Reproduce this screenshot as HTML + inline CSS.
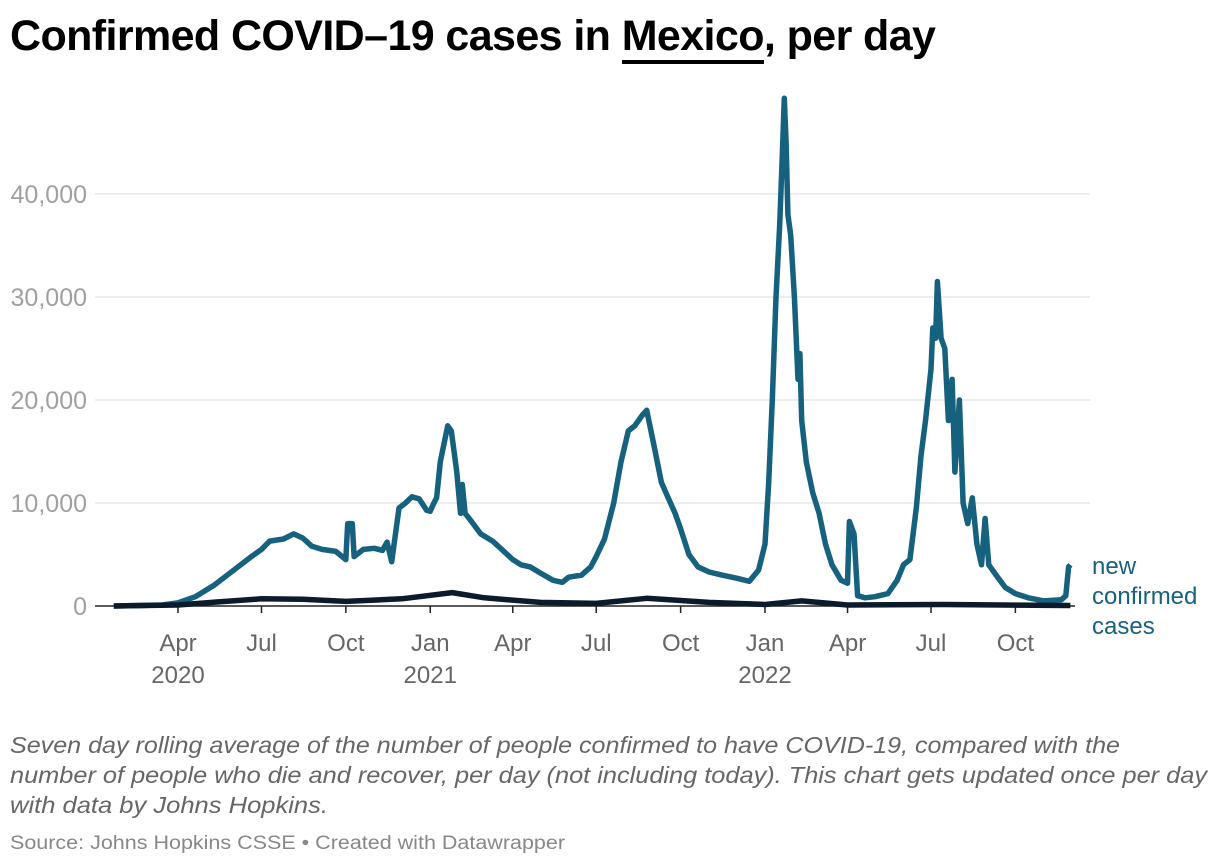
<!DOCTYPE html>
<html><head><meta charset="utf-8">
<style>
body{margin:0;background:#fff;width:1220px;height:866px;overflow:hidden;font-family:"Liberation Sans",sans-serif}
#title{position:absolute;left:10px;top:12px;font-size:43px;font-weight:bold;color:#000;letter-spacing:-0.6px;white-space:nowrap}
#title u{text-decoration:none;border-bottom:4px solid #000;padding-bottom:0px}
svg{position:absolute;left:0;top:0}
</style></head><body>
<div id="title">Confirmed COVID–19 cases in <u>Mexico</u>, per day</div>
<svg id="chart" width="1220" height="866">
<g font-family="Liberation Sans, sans-serif" font-style="italic" font-size="23" fill="#666">
<text x="10" y="753" textLength="1110" lengthAdjust="spacingAndGlyphs">Seven day rolling average of the number of people confirmed to have COVID-19, compared with the</text>
<text x="10" y="783" textLength="1197" lengthAdjust="spacingAndGlyphs">number of people who die and recover, per day (not including today). This chart gets updated once per day</text>
<text x="10" y="813" textLength="318" lengthAdjust="spacingAndGlyphs">with data by Johns Hopkins.</text>
</g>
<text x="10" y="849" font-family="Liberation Sans, sans-serif" font-size="19" fill="#888" textLength="555" lengthAdjust="spacingAndGlyphs">Source: Johns Hopkins CSSE • Created with Datawrapper</text>
</svg>
<script>
const caseDates=["2020-01-22","2020-03-15","2020-04-01","2020-04-20","2020-05-10","2020-06-01","2020-06-20","2020-07-01","2020-07-10","2020-07-25","2020-08-05","2020-08-15","2020-08-25","2020-09-05","2020-09-20","2020-10-01","2020-10-03","2020-10-08","2020-10-10","2020-10-20","2020-11-01","2020-11-10","2020-11-15","2020-11-20","2020-11-28","2020-12-05","2020-12-12","2020-12-20","2020-12-28","2021-01-01","2021-01-05","2021-01-08","2021-01-12","2021-01-20","2021-01-24","2021-01-30","2021-02-03","2021-02-05","2021-02-08","2021-02-15","2021-02-25","2021-03-10","2021-03-20","2021-04-01","2021-04-10","2021-04-20","2021-05-01","2021-05-15","2021-05-25","2021-06-01","2021-06-15","2021-06-25","2021-07-01","2021-07-10","2021-07-20","2021-07-28","2021-08-01","2021-08-05","2021-08-12","2021-08-20","2021-08-25","2021-09-01","2021-09-10","2021-09-15","2021-09-25","2021-10-01","2021-10-10","2021-10-20","2021-11-01","2021-11-15","2021-12-01","2021-12-15","2021-12-25","2022-01-01","2022-01-05","2022-01-09","2022-01-13","2022-01-17","2022-01-20","2022-01-22","2022-01-24","2022-01-26","2022-01-29","2022-02-02","2022-02-06","2022-02-08","2022-02-10","2022-02-15","2022-02-22","2022-03-01","2022-03-08","2022-03-15","2022-03-25","2022-04-01","2022-04-03","2022-04-08","2022-04-12","2022-04-20","2022-05-01","2022-05-15","2022-05-25","2022-06-01","2022-06-08","2022-06-15","2022-06-20","2022-06-25","2022-07-01","2022-07-03","2022-07-06","2022-07-08","2022-07-12","2022-07-16","2022-07-20","2022-07-24","2022-07-27","2022-08-01","2022-08-05","2022-08-10","2022-08-15","2022-08-20","2022-08-25","2022-08-29","2022-09-02","2022-09-10","2022-09-20","2022-10-01","2022-10-15","2022-11-01","2022-11-20","2022-11-25","2022-11-28","2022-11-30"];
const caseValues=[0,0.1,0.3,0.9,2.0,3.5,4.8,5.5,6.3,6.5,7.0,6.6,5.8,5.5,5.3,4.5,8.0,8.0,4.8,5.5,5.6,5.4,6.2,4.3,9.5,10.0,10.6,10.4,9.3,9.2,10.0,10.5,14,17.5,17.0,13,9.0,11.8,9.0,8.2,7,6.3,5.5,4.5,4.0,3.8,3.2,2.5,2.3,2.8,3.0,3.8,4.8,6.5,10.0,14.0,15.5,17.0,17.5,18.5,19.0,16,12,11,9.0,7.5,5.0,3.8,3.3,3.0,2.7,2.4,3.5,6.0,12,20,30,37,44,49.3,45,38,36,30,22,24.5,18,14,11,9,6,4,2.5,2.2,8.2,7,1.0,0.8,0.9,1.2,2.5,4.0,4.5,9.5,14.5,18,23,27,26,31.5,26,25,18,22,13,20,10,8,10.5,6,4,8.5,4,3,1.8,1.2,0.8,0.5,0.6,1.0,3.8,4.0];
const deathDates=["2020-01-22","2020-04-01","2020-05-15","2020-07-01","2020-08-15","2020-10-01","2020-12-01","2021-01-25","2021-03-01","2021-05-01","2021-07-01","2021-08-25","2021-11-01","2022-01-01","2022-02-10","2022-04-01","2022-07-15","2022-11-30"];
const deathValues=[0,0.1,0.4,0.7,0.65,0.45,0.7,1.3,0.8,0.35,0.25,0.75,0.35,0.15,0.5,0.1,0.15,0.05];
const yTicks=[0,10,20,30,40];
const yTickLabels=["0","10,000","20,000","30,000","40,000"];
const xTickDates=["2020-04-01","2020-07-01","2020-10-01","2021-01-01","2021-04-01","2021-07-01","2021-10-01","2022-01-01","2022-04-01","2022-07-01","2022-10-01"];
const xTickLabels=["Apr","Jul","Oct","Jan","Apr","Jul","Oct","Jan","Apr","Jul","Oct"];
const xYearLabels={"2020-04-01":"2020","2021-01-01":"2021","2022-01-01":"2022"};

const NS="http://www.w3.org/2000/svg";
const svg=document.getElementById('chart');
const d0=Date.parse("2020-04-01"),d1=Date.parse("2022-01-01");
function xs(d){return 178+(Date.parse(d)-d0)/(d1-d0)*587;}
function ys(v){return 606-v*10.3;}
function mk(t,a){const e=document.createElementNS(NS,t);for(const k in a)e.setAttribute(k,a[k]);svg.appendChild(e);return e;}
yTicks.forEach((t,i)=>{
  if(t>0){const g=mk('line',{x1:95,x2:1090,y1:ys(t),y2:ys(t),stroke:'#e2e2e2','stroke-width':1.2});
  
  }
  const l=mk('text',{x:87,y:ys(t)+9,'text-anchor':'end','font-size':25,fill:'#a0a0a0','font-family':'Liberation Sans, sans-serif'});
  l.textContent=yTickLabels[i];
  
  
});
const ax=mk('line',{x1:95,x2:1075,y1:606,y2:606,stroke:'#222','stroke-width':1.5});


xTickDates.forEach((d,i)=>{
  const x=xs(d);
  const tk=mk('line',{x1:x,x2:x,y1:606,y2:613,stroke:'#222','stroke-width':1.5});
  
  
  const l=mk('text',{x:x,y:651,'text-anchor':'middle','font-size':24,fill:'#666','font-family':'Liberation Sans, sans-serif'});
  l.textContent=xTickLabels[i];
  
  
  if(xYearLabels[d]){const y=mk('text',{x:x,y:683,'text-anchor':'middle','font-size':24,fill:'#666','font-family':'Liberation Sans, sans-serif'});
  y.textContent=xYearLabels[d];
  
  }
});
function path(dates,vals){return dates.map((d,i)=>(i?'L':'M')+xs(d).toFixed(1)+','+ys(vals[i]).toFixed(1)).join('');}
const cl=mk('path',{d:path(caseDates,caseValues),fill:'none',stroke:'#16617e','stroke-width':5.5,'stroke-linejoin':'round'});


const dl=mk('path',{d:path(deathDates,deathValues),fill:'none',stroke:'#0b1b2b','stroke-width':5.5,'stroke-linejoin':'round'});


["new","confirmed","cases"].forEach((w,i)=>{
  const t=mk('text',{x:1092,y:574+i*30,'font-size':24,fill:'#16617e','font-family':'Liberation Sans, sans-serif'});
  t.textContent=w;
  
  
});
</script>
</body></html>
